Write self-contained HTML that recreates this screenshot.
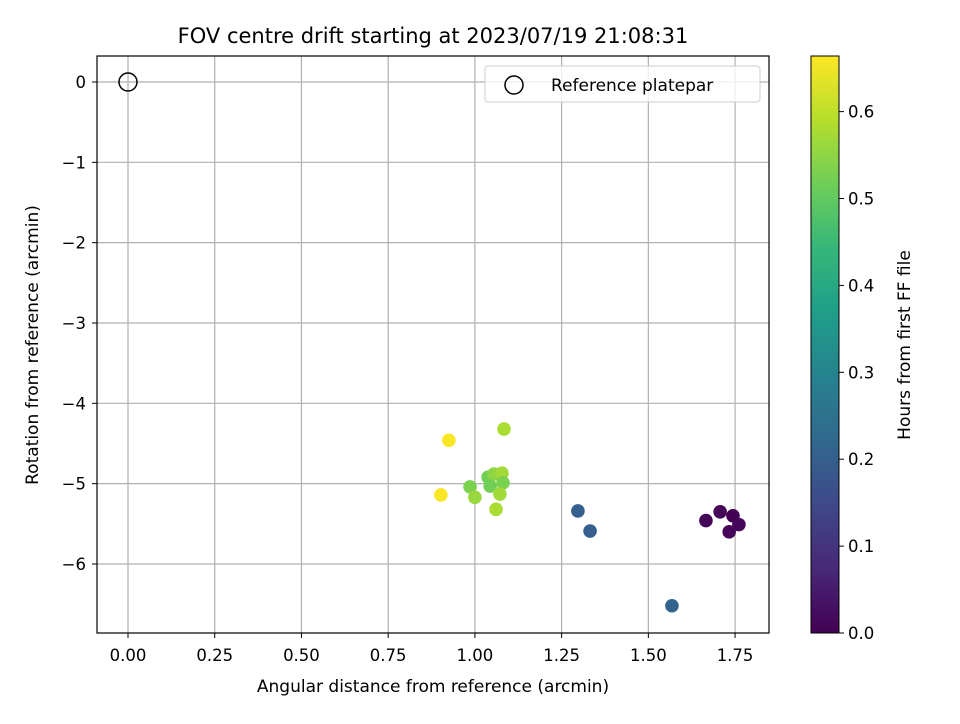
<!DOCTYPE html>
<html><head><meta charset="utf-8"><style>
body{margin:0;background:#fff;font-family:"DejaVu Sans","Liberation Sans",sans-serif}
svg text{font-family:"DejaVu Sans","Liberation Sans",sans-serif}
</style></head><body>
<svg id="c" width="960" height="720" xmlns="http://www.w3.org/2000/svg">
<defs><linearGradient id="vir" x1="0" y1="1" x2="0" y2="0"></linearGradient></defs>
<text x="433" y="43" font-size="21" text-anchor="middle">FOV centre drift starting at 2023/07/19 21:08:31</text>
<g id="grid"></g><g id="pts"></g>
<rect x="97" y="56" width="672" height="577" fill="none" stroke="#000" stroke-width="1.2"/>
<g id="ticks"></g>
<text x="433" y="692" font-size="17" text-anchor="middle">Angular distance from reference (arcmin)</text>
<text transform="translate(38,345) rotate(-90)" font-size="17" text-anchor="middle">Rotation from reference (arcmin)</text>
<g>
<rect x="485" y="66" width="275" height="36" rx="3" fill="#fff" fill-opacity="0.8" stroke="#ccc"/>
<circle cx="514" cy="85" r="9" fill="none" stroke="#000" stroke-width="1.5"/>
<text x="551" y="91" font-size="17">Reference platepar</text></g>
<rect x="811" y="56" width="28" height="577" fill="url(#vir)" stroke="#000" stroke-width="1"/>
<g id="cbt"></g>
<text transform="translate(910,345) rotate(-90)" font-size="17" text-anchor="middle">Hours from first FF file</text>
</svg>
<script>
const xs=[0.925,0.902,1.084,0.986,1.0,1.038,1.055,1.078,1.081,1.044,1.072,1.061,1.297,1.332,1.568,1.666,1.707,1.744,1.761,1.733];
const ys=[-4.46,-5.14,-4.32,-5.04,-5.17,-4.92,-4.88,-4.87,-4.99,-5.03,-5.13,-5.32,-5.34,-5.59,-6.52,-5.46,-5.35,-5.40,-5.51,-5.60];
const hours=[0.66,0.66,0.58,0.53,0.56,0.52,0.55,0.57,0.53,0.52,0.57,0.58,0.2,0.2,0.21,0.01,0.01,0.0,0.01,0.01];
const xTicks=[0,0.25,0.5,0.75,1.0,1.25,1.5,1.75];
const yTicks=[0,-1,-2,-3,-4,-5,-6];
const cTicks=[0,0.1,0.2,0.3,0.4,0.5,0.6];
const cMax=0.664;
const X=v=>128+v*346.9, Y=v=>82-v*80.33, C=v=>633-v/cMax*577;
const V=[[68,1,84],[72,40,120],[62,73,137],[49,104,142],[38,130,142],[31,158,137],[53,183,121],[110,206,88],[181,222,43],[253,231,37]];
function col(t){t=Math.max(0,Math.min(1,t));const f=t*(V.length-1),i=Math.min(V.length-2,Math.floor(f)),r=f-i;return 'rgb('+V[i].map((a,k)=>Math.round(a+(V[i+1][k]-a)*r)).join(',')+')';}
const NS='http://www.w3.org/2000/svg';
const gr=document.getElementById('vir');
V.forEach((c,i)=>{const s=document.createElementNS(NS,'stop');s.setAttribute('offset',i/(V.length-1));s.setAttribute('stop-color','rgb('+c.join(',')+')');gr.appendChild(s);});
function mk(p,tag,a){const e=document.createElementNS(NS,tag);for(const k in a)e.setAttribute(k,a[k]);document.getElementById(p).appendChild(e);return e;}
xTicks.forEach(v=>{const x=X(v);
let g=mk('grid','line',{x1:x,x2:x,y1:56,y2:633,stroke:'#b0b0b0','stroke-width':1.2});


mk('ticks','line',{x1:x,x2:x,y1:633,y2:638,stroke:'#000'});
let t=mk('ticks','text',{x:x,y:661,'font-size':16.5,'text-anchor':'middle'});t.textContent=v.toFixed(2);

});
yTicks.forEach(v=>{const y=Y(v);
let g=mk('grid','line',{x1:97,x2:769,y1:y,y2:y,stroke:'#b0b0b0','stroke-width':1.2});


mk('ticks','line',{x1:92,x2:97,y1:y,y2:y,stroke:'#000'});
let t=mk('ticks','text',{x:86,y:y+6,'font-size':16.5,'text-anchor':'end'});t.textContent=v===0?'0':'\u2212'+Math.abs(v);

});
cTicks.forEach(v=>{const y=C(v);
mk('cbt','line',{x1:839,x2:844,y1:y,y2:y,stroke:'#000'});
let t=mk('cbt','text',{x:848,y:y+6,'font-size':16.5});t.textContent=v.toFixed(1);

});
let r=mk('pts','circle',{cx:X(0),cy:Y(0),r:9,fill:'none',stroke:'#000','stroke-width':1.5});


xs.forEach((v,i)=>{let c=mk('pts','circle',{cx:X(v),cy:Y(ys[i]),r:6.8,fill:col(hours[i]/cMax)});

});
</script>
</body></html>
